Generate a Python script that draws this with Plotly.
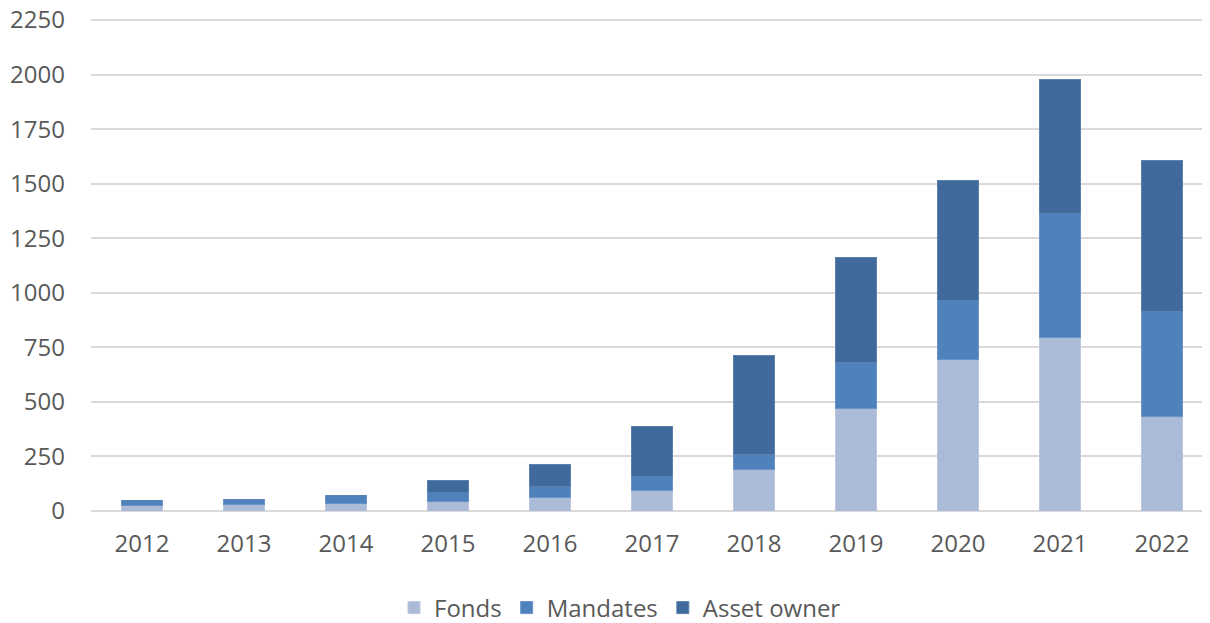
import plotly.graph_objects as go

years = ["2012", "2013", "2014", "2015", "2016", "2017", "2018", "2019", "2020", "2021", "2022"]
fonds = [25, 28, 36, 42, 63, 95, 190, 470, 695, 797, 434]
mandates = [22, 27, 36, 45, 51, 61, 71, 212, 271, 567, 481]
asset_owner = [0, 0, 0, 55, 101, 233, 453, 480, 550, 615, 693]
y_ticks = [0, 250, 500, 750, 1000, 1250, 1500, 1750, 2000, 2250]

series = [
    ("Fonds", fonds, "#ABBAD7", "#BBC8E0"),
    ("Mandates", mandates, "#4F81BD", "#6A94C8"),
    ("Asset owner", asset_owner, "#406A9C", "#5A80AE"),
]

fig = go.Figure()
for name, vals, col, edge in series:
    fig.add_trace(go.Bar(
        x=years, y=vals, name=name,
        marker=dict(color=col, line=dict(color=edge, width=1)),
    ))

W, H = 1202, 615
L = 83
plot_w = W - L
cat_px = 102.0
font_family = "Open Sans, Noto Sans, sans-serif"
fig.update_layout(
    barmode="stack",
    bargap=0.6,
    width=W, height=H,
    margin=dict(l=L, r=0, t=11, b=112, autoexpand=False),
    plot_bgcolor="white", paper_bgcolor="white",
    font=dict(family=font_family, size=24, color="#595959"),
    showlegend=True,
    legend=dict(orientation="h", x=612 / W, xref="container", xanchor="center",
                y=1 - 600 / H, yref="container", yanchor="middle",
                font=dict(size=24, color="#595959"), traceorder="normal",
                itemwidth=30),
)
fig.update_xaxes(showgrid=False, showline=False, ticks="", ticklabelstandoff=16, automargin=False,
                 range=[-0.5, -0.5 + plot_w / cat_px])
fig.update_yaxes(range=[0, 2255], tickvals=y_ticks, showgrid=True, gridcolor="#D9D9D9",
                 gridwidth=2, zeroline=True, zerolinecolor="#D9D9D9", zerolinewidth=2,
                 ticks="", ticklabelstandoff=25, automargin=False,
                 ticklabeloverflow="allow")

fig.write_html("out.html")
